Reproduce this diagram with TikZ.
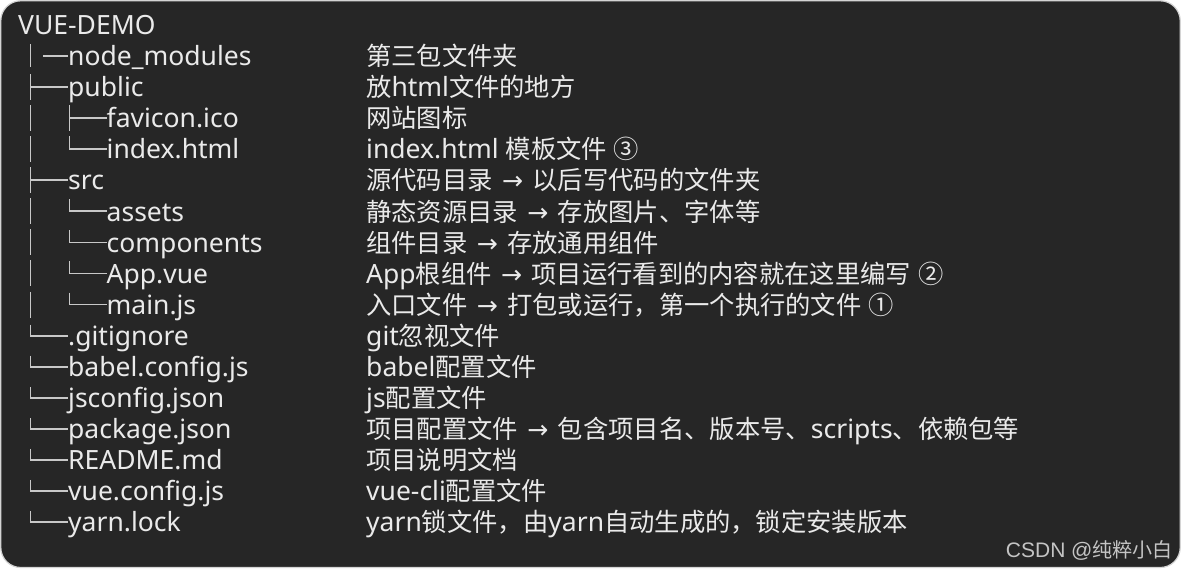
\documentclass[tikz,border=0pt]{standalone}
\usepackage{fontspec}
\setmainfont{Noto Sans}
\newfontfamily\cjkfont[Scale=0.955]{Noto Sans CJK SC}
\newfontfamily\arrfont[Scale=0.95]{DejaVu Sans}
\newfontfamily\wmfont{Liberation Sans}
\newcommand\zh[1]{{\cjkfont #1}}
\newcommand\myarrow{\hspace{2.5pt}{\arrfont →}\hspace{2.5pt}}
\definecolor{bgdark}{HTML}{262626}
\definecolor{txt}{HTML}{EAEAEA}
\definecolor{treeline}{HTML}{C8C8C8}
\definecolor{frame}{HTML}{D4D4D4}
\definecolor{wmgray}{HTML}{C4C4C4}
\tikzset{
  ftext/.style={anchor=base west, inner sep=0pt, text=txt, font=\fontsize{26.5}{30}\selectfont},
  tline/.style={draw=treeline, line width=1.8pt, line cap=butt},
}
% row helpers: baseline = 34.6 + 31.07*row ; line centre = 24.93 + 31.07*row
\newcommand\entry[4]{\pgfmathsetmacro\bl{34.6+31.07*#2}\node[ftext] (#1) at (#3,\bl) {#4};}
\newcommand\vfull[2]{\pgfmathsetmacro\cc{24.93+31.07*#2}\draw[tline] (#1,\cc-13) -- (#1,\cc+13);}
\newcommand\vcorner[3]{\pgfmathsetmacro\cc{24.93+31.07*#2}\draw[tline] (#1,\cc-#3) -- (#1,\cc+0.9);}
\newcommand\hseg[3]{\pgfmathsetmacro\cc{24.93+31.07*#3}\draw[tline] (#1,\cc) -- (#2,\cc);}
\begin{document}
\begin{tikzpicture}[x=1pt,y=-1pt]
\useasboundingbox (0,0) rectangle (1181,571);
\fill[white] (0,0) rectangle (1181,571);
\path[fill=bgdark, draw=frame, line width=1.2pt, rounded corners=20pt] (0.8,0.8) rectangle (1180.2,567.5);

% ---- tree lines ----
% node_modules
\draw[tline] (30.5,44) -- (30.5,67);
\hseg{43}{68}{1}
% level-1 verticals (rows 2..9)
\foreach \r in {2,...,9} {\vfull{30.5}{\r}}
\hseg{30.5}{68}{2}
\hseg{30.5}{68}{5}
% level-2 under public
\vfull{69.5}{3}
\hseg{69.5}{107}{3}
\vcorner{69.5}{4}{13}
\hseg{69.5}{107}{4}
% level-2 under src
\foreach \r in {6,...,9} {\vcorner{69.5}{\r}{12}\hseg{69.5}{107}{\r}}
% level-1 corners (rows 10..16)
\foreach \r in {10,...,16} {\vcorner{30.5}{\r}{11}\hseg{30.5}{68}{\r}}

% ---- names ----
\entry{root}{0}{18}{VUE-DEMO}
\entry{n1}{1}{68}{node\_modules}
\entry{n2}{2}{68}{public}
\entry{n3}{3}{106.5}{favicon.ico}
\entry{n4}{4}{106.5}{index.html}
\entry{n5}{5}{68}{src}
\entry{n6}{6}{106.5}{assets}
\entry{n7}{7}{106.5}{components}
\entry{n8}{8}{106.5}{App.vue}
\entry{n9}{9}{106.5}{main.js}
\entry{n10}{10}{68}{.gitignore}
\entry{n11}{11}{68}{babel.config.js}
\entry{n12}{12}{68}{jsconfig.json}
\entry{n13}{13}{68}{package.json}
\entry{n14}{14}{68}{README.md}
\entry{n15}{15}{68}{vue.config.js}
\entry{n16}{16}{68}{yarn.lock}

% ---- descriptions ----
\entry{d1}{1}{366}{\zh{第三包文件夹}}
\entry{d2}{2}{366}{\zh{放}html\zh{文件的地方}}
\entry{d3}{3}{366}{\zh{网站图标}}
\entry{d4}{4}{366}{index.html \zh{模板文件} \zh{③}}
\entry{d5}{5}{366}{\zh{源代码目录} \myarrow{} \zh{以后写代码的文件夹}}
\entry{d6}{6}{366}{\zh{静态资源目录} \myarrow{} \zh{存放图片、字体等}}
\entry{d7}{7}{366}{\zh{组件目录} \myarrow{} \zh{存放通用组件}}
\entry{d8}{8}{366}{App\zh{根组件} \myarrow{} \zh{项目运行看到的内容就在这里编写} \zh{②}}
\entry{d9}{9}{366}{\zh{入口文件} \myarrow{} \zh{打包或运行，第一个执行的文件} \zh{①}}
\entry{d10}{10}{366}{git\zh{忽视文件}}
\entry{d11}{11}{366}{babel\zh{配置文件}}
\entry{d12}{12}{366}{js\zh{配置文件}}
\entry{d13}{13}{366}{\zh{项目配置文件} \myarrow{} \zh{包含项目名、版本号、}scripts\zh{、依赖包等}}
\entry{d14}{14}{366}{\zh{项目说明文档}}
\entry{d15}{15}{366}{vue-cli\zh{配置文件}}
\entry{d16}{16}{366}{yarn\zh{锁文件，由}yarn\zh{自动生成的，锁定安装版本}}

% ---- watermark ----
\node[anchor=base east, inner sep=0pt, text=wmgray, font=\wmfont\fontsize{21}{25}\selectfont] (wm) at (1173,557) {CSDN @\zh{纯粹小白}};
\end{tikzpicture}
\end{document}
